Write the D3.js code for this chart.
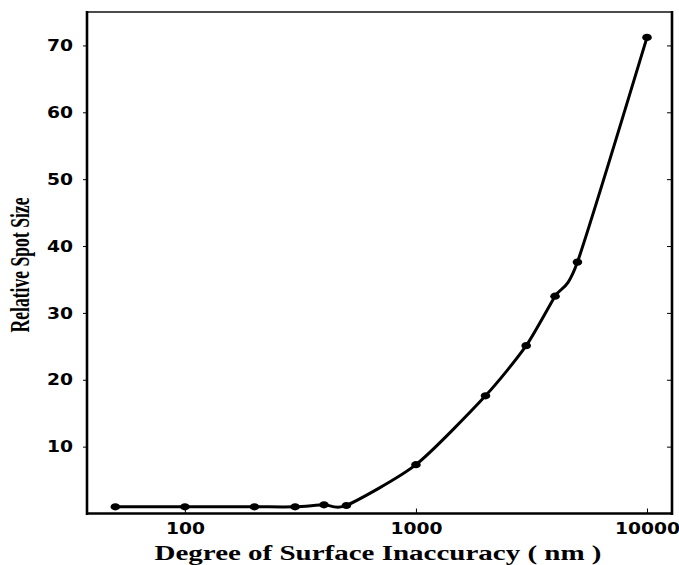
<!DOCTYPE html>
<html>
<head>
<meta charset="utf-8">
<script src="https://cdn.jsdelivr.net/npm/d3@7"></script>
<style>
html,body{margin:0;padding:0;background:#fff;}
</style>
</head>
<body>
<svg id="chart" width="679" height="565"></svg>
<script>
// Data
const inaccuracy = [50, 100, 200, 300, 400, 500, 1000, 2000, 3000, 4000, 5000, 10000];
const spotSize   = [1.0, 1.0, 1.0, 1.0, 1.3, 1.2, 7.3, 17.6, 25.1, 32.5, 37.6, 71.2];
const xTicks = [100, 1000, 10000];
const yTicks = [10, 20, 30, 40, 50, 60, 70];
const xLabel = "Degree of Surface Inaccuracy ( nm )";
const yLabel = "Relative Spot Size";

const svg = d3.select("#chart");
const L = 87, R = 672, T = 12, B = 513.5;

const x = d3.scaleLog().domain([37.7, 12830]).range([L, R]);
const y = d3.scaleLinear().domain([0, 75]).range([B, T]);

// frame
svg.append("line").attr("x1", L).attr("x2", R).attr("y1", T).attr("y2", T)
  .attr("stroke", "#111").attr("stroke-width", 1.5);
svg.append("line").attr("x1", L).attr("x2", L).attr("y1", T - 1).attr("y2", B + 1.5)
  .attr("stroke", "#000").attr("stroke-width", 2.6);
svg.append("line").attr("x1", R).attr("x2", R).attr("y1", T - 1).attr("y2", B + 1.5)
  .attr("stroke", "#000").attr("stroke-width", 2.6);
svg.append("line").attr("x1", L).attr("x2", R).attr("y1", B).attr("y2", B)
  .attr("stroke", "#000").attr("stroke-width", 2.6);

// y axis labels and ticks
const yAxis = d3.axisLeft(y).tickValues(yTicks).tickSize(4).tickPadding(10)
  .tickFormat(d3.format("d"));
const gy = svg.append("g").attr("transform", `translate(${L},0)`).call(yAxis);
gy.select(".domain").remove();
gy.selectAll(".tick line").attr("stroke", "#000").attr("stroke-width", 1);
gy.selectAll(".tick text")
  .attr("font-family", "DejaVu Sans, sans-serif").attr("font-weight", "bold")
  .attr("font-size", 16).attr("fill", "#000")
  .attr("textLength", d => String(d).length * 13).attr("lengthAdjust", "spacingAndGlyphs");

// right side inward ticks
const yRight = d3.axisLeft(y).tickValues(yTicks).tickSize(5).tickFormat("");
const gr = svg.append("g").attr("transform", `translate(${R},0)`).call(yRight);
gr.select(".domain").remove();
gr.selectAll(".tick line").attr("stroke", "#000").attr("stroke-width", 1);

// x axis
const xAxis = d3.axisBottom(x).tickValues(xTicks).tickSize(-5).tickPadding(10)
  .tickFormat(d3.format("d"));
const gx = svg.append("g").attr("transform", `translate(0,${B})`).call(xAxis);
gx.select(".domain").remove();
gx.selectAll(".tick line").attr("stroke", "#000").attr("stroke-width", 1);
gx.selectAll(".tick text")
  .attr("font-family", "DejaVu Sans, sans-serif").attr("font-weight", "bold")
  .attr("font-size", 15).attr("fill", "#000")
  .attr("textLength", d => String(d).length * 13).attr("lengthAdjust", "spacingAndGlyphs");

// axis titles
svg.append("text").attr("x", 378).attr("y", 560).attr("text-anchor", "middle")
  .attr("font-family", "Liberation Serif, serif").attr("font-weight", "bold")
  .attr("font-size", 20).attr("fill", "#000")
  .attr("textLength", 447).attr("lengthAdjust", "spacingAndGlyphs")
  .text(xLabel);

svg.append("text")
  .attr("transform", "translate(29,265) rotate(-90)")
  .attr("text-anchor", "middle")
  .attr("font-family", "Liberation Serif, serif").attr("font-weight", "bold")
  .attr("font-size", 27).attr("fill", "#000")
  .attr("textLength", 135).attr("lengthAdjust", "spacingAndGlyphs")
  .text(yLabel);

// data line
const data = inaccuracy.map((v, i) => ({x: v, y: spotSize[i]}));
const line = d3.line().x(d => x(d.x)).y(d => y(d.y)).curve(d3.curveCardinal.tension(0.3));
svg.append("path").datum(data).attr("d", line)
  .attr("fill", "none").attr("stroke", "#000").attr("stroke-width", 3)
  .attr("stroke-linejoin", "round");

svg.selectAll("ellipse.pt").data(data).enter().append("ellipse")
  .attr("class", "pt")
  .attr("cx", d => x(d.x)).attr("cy", d => y(d.y))
  .attr("rx", 4.8).attr("ry", 3.6).attr("fill", "#000");
</script>
</body>
</html>
